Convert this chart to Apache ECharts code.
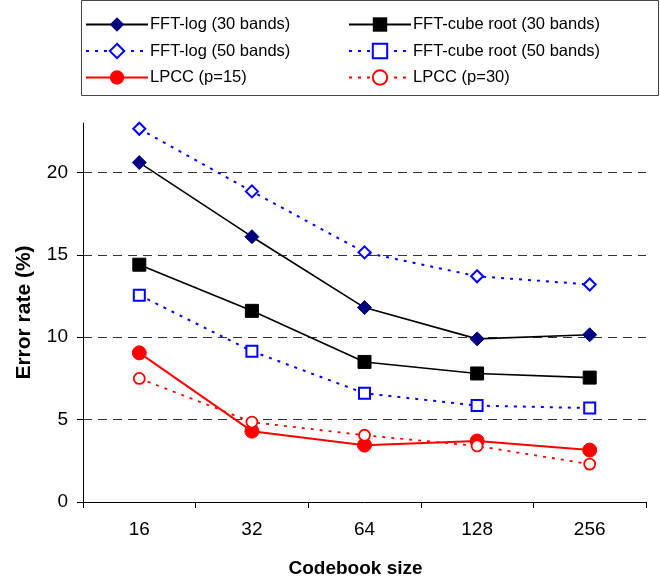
<!DOCTYPE html>
<html><head><meta charset="utf-8">
<script src="https://cdn.jsdelivr.net/npm/echarts@6/dist/echarts.min.js"></script>
<style>html,body{margin:0;padding:0;background:#fff}#c{width:660px;height:577px}</style>
</head><body><div id="c"></div>
<script>
const categories = ['16','32','64','128','256'];
const fftLog30 = [20.6, 16.1, 11.8, 9.9, 10.15];
const fftLog50 = [22.65, 18.85, 15.15, 13.7, 13.2];
const fftCube30 = [14.4, 11.6, 8.5, 7.8, 7.55];
const fftCube50 = [12.55, 9.15, 6.6, 5.85, 5.7];
const lpcc15 = [9.05, 4.3, 3.45, 3.7, 3.15];
const lpcc30 = [7.5, 4.85, 4.05, 3.4, 2.3];
const yTicks = [0, 5, 10, 15, 20];
const names = ['FFT-log (30 bands)','FFT-log (50 bands)','LPCC (p=15)','FFT-cube root (30 bands)','FFT-cube root (50 bands)','LPCC (p=30)'];

const FONT = '"Liberation Sans", Arial, sans-serif';
const chart = echarts.init(document.getElementById('c'), null, {renderer:'canvas'});
function mk(name, data, o){
  return Object.assign({
    name, type:'line', data, z:3, animation:false,
    symbolKeepAspect:true,
    emphasis:{disabled:true}
  }, o);
}
const legendCommon = {
  orient:'vertical', itemWidth:62, itemHeight:18, itemGap:9.5,
  textStyle:{fontFamily:FONT, fontSize:16.5, color:'#000', padding:[0,0,0,-3]},
  selectedMode:false, padding:0
};
chart.setOption({
  animation:false,
  graphic:[{type:'rect', shape:{x:81.5, y:0.5, width:577, height:95}, style:{fill:'none', stroke:'#444', lineWidth:1}, silent:true}],
  legend:[
    Object.assign({left:85, top:16, data:[names[0],names[1],names[2]]}, legendCommon),
    Object.assign({left:348, top:16, data:[names[3],names[4],names[5]]}, legendCommon)
  ],
  grid:{left:83, right:14, top:123, bottom:75, outerBoundsMode:'none', containLabel:false},
  xAxis:{
    type:'category', data:categories, boundaryGap:true,
    name:'Codebook size', nameLocation:'middle', nameGap:57,
    nameTextStyle:{fontFamily:FONT, fontSize:19, fontWeight:'bold', color:'#000', padding:[0,18,0,0]},
    axisLine:{lineStyle:{color:'#000', width:1}},
    axisTick:{show:true, length:6, inside:false, lineStyle:{color:'#000'}},
    axisLabel:{fontFamily:FONT, fontSize:19, color:'#000', margin:18},
    splitLine:{show:false}
  },
  yAxis:{
    type:'value', min:0, max:23, interval:5,
    name:'Error rate (%)', nameLocation:'middle', nameGap:48,
    nameTextStyle:{fontFamily:FONT, fontSize:21, fontWeight:'bold', color:'#000'},
    axisLine:{show:true, lineStyle:{color:'#000', width:1}},
    axisTick:{show:true, length:6, lineStyle:{color:'#000'}, customValues:yTicks},
    axisLabel:{fontFamily:FONT, fontSize:19, color:'#000', margin:15, customValues:yTicks},
    splitLine:{show:true, showMinLine:false, showMaxLine:true, lineStyle:{color:'#333', type:[9,6], width:1}}
  },
  series:[
    mk(names[0], fftLog30, {symbol:'diamond', symbolSize:[14,14], lineStyle:{color:'#000', width:1.6}, itemStyle:{color:'#000080', borderColor:'#000080'}}),
    mk(names[1], fftLog50, {symbol:'diamond', symbolSize:[12,12], lineStyle:{color:'#0000ff', width:2, type:[3,6]}, itemStyle:{color:'#fff', borderColor:'#0000ff', borderWidth:2}}),
    mk(names[2], lpcc15, {symbol:'circle', symbolSize:14, lineStyle:{color:'#ff0000', width:2}, itemStyle:{color:'#ff0000', borderColor:'#ff0000'}}),
    mk(names[3], fftCube30, {symbol:'rect', symbolSize:13, lineStyle:{color:'#000', width:1.6}, itemStyle:{color:'#000', borderColor:'#000'}}),
    mk(names[4], fftCube50, {symbol:'rect', symbolSize:11, lineStyle:{color:'#0000ff', width:2, type:[3,6]}, itemStyle:{color:'#fff', borderColor:'#0000ff', borderWidth:2}}),
    mk(names[5], lpcc30, {symbol:'circle', symbolSize:11, lineStyle:{color:'#ff0000', width:1.8, type:[3,6]}, itemStyle:{color:'#fff', borderColor:'#ff0000', borderWidth:1.8}})
  ]
});
</script>
</body></html>
